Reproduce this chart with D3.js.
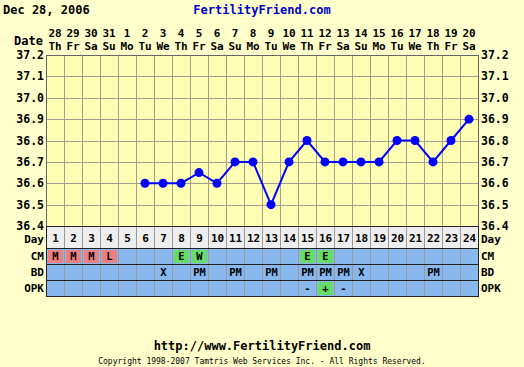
<!DOCTYPE html>
<html><head><meta charset="utf-8">
<script src="https://cdn.jsdelivr.net/npm/d3@7"></script>
<style>
html,body{margin:0;padding:0;background:#ffffcc;}
svg{display:block;}
text{font-family:"DejaVu Sans Mono",monospace;font-weight:bold;fill:#000;}
</style></head><body>
<script>
const days = d3.range(1, 25);
const dateNums = ["28","29","30","31","1","2","3","4","5","6","7","8","9","10","11","12","13","14","15","16","17","18","19","20"];
const dateDows = ["Th","Fr","Sa","Su","Mo","Tu","We","Th","Fr","Sa","Su","Mo","Tu","We","Th","Fr","Sa","Su","Mo","Tu","We","Th","Fr","Sa"];
const tempDays = [6,7,8,9,10,11,12,13,14,15,16,17,18,19,20,21,22,23,24];
const temps = [36.6,36.6,36.6,36.65,36.6,36.7,36.7,36.5,36.7,36.8,36.7,36.7,36.7,36.7,36.8,36.8,36.7,36.8,36.9];
const yTicks = [36.4,36.5,36.6,36.7,36.8,36.9,37.0,37.1,37.2];
const cmDays = [1,2,3,4,8,9,15,16];
const cmVals = ["M","M","M","L","E","W","E","E"];
const cmKind = ["pink","pink","pink","pink","green","green","green","green"];
const bdDays = [7,9,11,13,15,16,17,18,22];
const bdVals = ["X","PM","PM","PM","PM","PM","PM","X","PM"];
const opkDays = [15,16,17];
const opkVals = ["-","+","-"];
const opkKind = ["none","green","none"];

const W = 524, H = 367;
const L = 46, R = 478, T = 55, B = 226;
const svg = d3.select("body").append("svg").attr("width", W).attr("height", H);

const x = d3.scaleBand().domain(days).range([L, R]);
const y = d3.scaleLinear().domain([36.4, 37.2]).range([B, T]);

// plot background
svg.append("rect").attr("x", L).attr("y", T).attr("width", R - L).attr("height", B - T).attr("fill", "#ffffb4");
// vertical grid
svg.append("g").selectAll("line").data(days.slice(1)).join("line")
  .attr("x1", d => x(d)+0.5).attr("x2", d => x(d)+0.5).attr("y1", T).attr("y2", B)
  .attr("stroke", "#a0a090").attr("stroke-width", 1);
// horizontal grid
svg.append("g").selectAll("line").data(yTicks.slice(1, -1)).join("line")
  .attr("x1", L).attr("x2", R).attr("y1", d => Math.round(y(d))+0.5).attr("y2", d => Math.round(y(d))+0.5)
  .attr("stroke", "#a0a090").attr("stroke-width", 1);
svg.append("rect").attr("x", L+0.5).attr("y", T+0.5).attr("width", R - L).attr("height", B - T)
  .attr("fill", "none").attr("stroke", "#666").attr("stroke-width", 1);

// y labels
svg.append("g").selectAll("text").data(yTicks).join("text")
  .attr("x", L - 2).attr("y", d => y(d) + 4).attr("text-anchor", "end").attr("font-size", 11.5).text(d => d.toFixed(1));
svg.append("g").selectAll("text").data(yTicks).join("text")
  .attr("x", R + 3).attr("y", d => y(d) + 4).attr("text-anchor", "start").attr("font-size", 11.5).text(d => d.toFixed(1));

// header
svg.append("text").attr("x", 3).attr("y", 14).attr("font-size", 12).text("Dec 28, 2006");
svg.append("text").attr("x", 262).attr("y", 14).attr("text-anchor", "middle").attr("font-size", 12)
  .style("fill", "#0000cc").text("FertilityFriend.com");
svg.append("text").attr("x", 43).attr("y", 45).attr("text-anchor", "end").attr("font-size", 12).text("Date");
svg.append("g").selectAll("text").data(days).join("text")
  .attr("x", d => x(d) + x.bandwidth()/2).attr("y", 37).attr("text-anchor", "middle").attr("font-size", 11)
  .text((d,i) => dateNums[i]);
svg.append("g").selectAll("text").data(days).join("text")
  .attr("x", d => x(d) + x.bandwidth()/2).attr("y", 50).attr("text-anchor", "middle").attr("font-size", 11)
  .text((d,i) => dateDows[i]);

// table rows
const rows = [
  {name:"Day", y0:226, y1:248, fill:"#eeeeee"},
  {name:"CM", y0:248, y1:264, fill:"#88b8ee"},
  {name:"BD", y0:264, y1:280, fill:"#88b8ee"},
  {name:"OPK", y0:280, y1:296, fill:"#88b8ee"}
];
svg.append("g").selectAll("rect").data(rows).join("rect")
  .attr("x", L).attr("y", d => d.y0).attr("width", R - L).attr("height", d => d.y1 - d.y0).attr("fill", d => d.fill);

const colFill = {pink:"#ee7f7f", green:"#66dd66"};
function cells(row, ds, vals, kinds) {
  const r = rows.find(q => q.name === row);
  const g = svg.append("g");
  if (kinds) {
    g.selectAll("rect").data(ds.map((d,i) => ({d, k: kinds[i]})).filter(o => o.k !== "none")).join("rect")
      .attr("x", o => x(o.d) + 2).attr("y", r.y0 + 2).attr("width", x.bandwidth() - 3).attr("height", r.y1 - r.y0 - 3)
      .attr("fill", o => colFill[o.k]);
  }
  g.selectAll("text").data(ds).join("text")
    .attr("x", d => x(d) + x.bandwidth()/2 + 0.5).attr("y", r.y0 + 12).attr("text-anchor", "middle").attr("font-size", 10.5)
    .text((d,i) => vals[i]);
}
cells("CM", cmDays, cmVals, cmKind);
cells("BD", bdDays, bdVals, null);
cells("OPK", opkDays, opkVals, opkKind);

// table grid lines
svg.append("g").selectAll("line").data(days.slice(1)).join("line")
  .attr("x1", d => x(d)+0.5).attr("x2", d => x(d)+0.5).attr("y1", 226).attr("y2", 296)
  .attr("stroke", "#9a9a9a").attr("stroke-width", 1);
svg.append("g").selectAll("line").data([226,248,264,280,296]).join("line")
  .attr("x1", L).attr("x2", R+1).attr("y1", d => d+0.5).attr("y2", d => d+0.5)
  .attr("stroke", "#222").attr("stroke-width", 1);
svg.append("line").attr("x1", L+0.5).attr("x2", L+0.5).attr("y1", 226).attr("y2", 296).attr("stroke", "#222");
svg.append("line").attr("x1", R+0.5).attr("x2", R+0.5).attr("y1", 226).attr("y2", 296).attr("stroke", "#222");

// day numbers
svg.append("g").selectAll("text").data(days).join("text")
  .attr("x", d => x(d) + x.bandwidth()/2 + 0.5).attr("y", 242).attr("text-anchor", "middle").attr("font-size", 11)
  .text(d => d);
// row labels
svg.append("g").selectAll("text").data(rows).join("text")
  .attr("x", L - 2).attr("y", d => d.name === "Day" ? 243 : d.y0 + 12).attr("text-anchor", "end")
  .attr("font-size", 11).text(d => d.name);
svg.append("g").selectAll("text").data(rows).join("text")
  .attr("x", R + 3).attr("y", d => d.name === "Day" ? 243 : d.y0 + 12).attr("text-anchor", "start")
  .attr("font-size", 11).text(d => d.name);

// temperature line
const pts = tempDays.map((d,i) => [x(d) + x.bandwidth()/2, y(temps[i])]);
svg.append("path").attr("d", d3.line()(pts)).attr("fill", "none").attr("stroke", "#0000ff").attr("stroke-width", 2);
svg.append("g").selectAll("circle").data(pts).join("circle")
  .attr("cx", p => p[0]).attr("cy", p => p[1]).attr("r", 4.5).attr("fill", "#0000ff");

// footer
svg.append("text").attr("x", 262).attr("y", 350).attr("text-anchor", "middle").attr("font-size", 12)
  .text("http://www.FertilityFriend.com");
svg.append("text").attr("x", 262).attr("y", 364).attr("text-anchor", "middle").attr("font-size", 8)
  .style("font-weight", "normal").text("Copyright 1998-2007 Tamtris Web Services Inc. - All Rights Reserved.");
</script>
</body></html>
